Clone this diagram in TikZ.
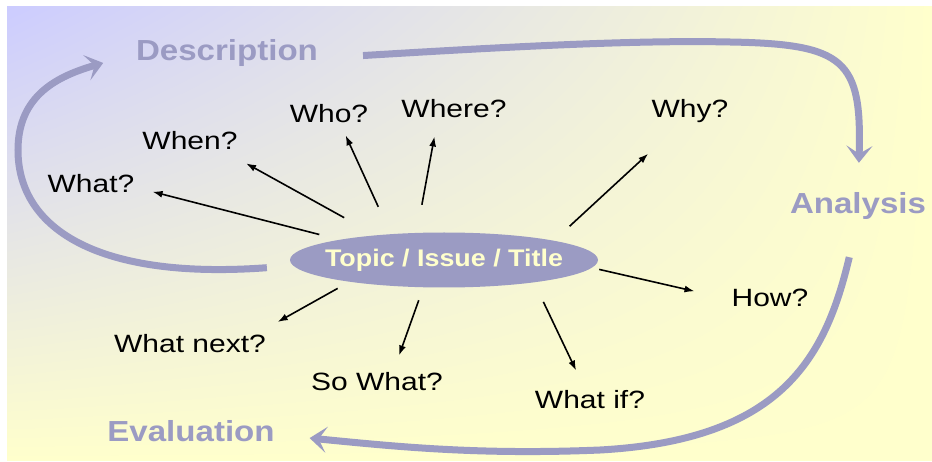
\documentclass[tikz,border=0pt]{standalone}
\usepackage{fontspec}
\usepackage{tikz}
\usetikzlibrary{shapes}
\usetikzlibrary{shadings}
\usetikzlibrary{arrows.meta}
\newfontfamily\qfont{Liberation Sans}[FakeStretch=1.2]
\newfontfamily\hfont{Liberation Sans}[FakeStretch=1.14]
\newfontfamily\tfont{Liberation Sans}[FakeStretch=1.12]
\definecolor{lav}{RGB}{155,155,195}
\definecolor{lavbg}{RGB}{204,204,255}
\definecolor{pale}{RGB}{255,255,204}

\begin{document}
\begin{tikzpicture}[x=1pt,y=1pt]
      \tikzstyle{every node}=[inner sep=0pt]
      \tikzstyle{qnode}=[anchor=base,font=\qfont\fontsize{25}{30}\selectfont,text=black]
      \tikzstyle{stagenode}=[anchor=base,font=\hfont\bfseries\fontsize{29}{34}\selectfont,text=lav]
      \tikzstyle{qarrow}=[-{Latex[length=10pt,width=7pt]},line width=1.6pt]
      \tikzstyle{flowarrow}=[-{Stealth[length=17pt,width=26pt,inset=8pt]},line width=7pt,draw=lav]
      % 
      \useasboundingbox (0,0) rectangle (932,461);
      \shade[upper left=lavbg,upper right=pale,lower left=pale,lower right=pale] (7,1) rectangle (932,454);
      % 
      \node [ellipse,fill=lav,minimum width=308pt,minimum height=55pt,inner xsep=-16pt,inner ysep=0pt,
             text=pale,font=\tfont\bfseries\fontsize{24}{28}\selectfont] (topic) at (444,201) {Topic / Issue / Title};
      \node [stagenode] (desc)     at (227,400) {Description};
      \node [stagenode] (analysis) at (858,247) {Analysis};
      \node [stagenode] (eval)     at (191,20)  {Evaluation};
      \node [qnode] (what)   at (91,268)  {What?};
      \node [qnode] (when)   at (190,311) {When?};
      \node [qnode] (who)    at (329,338) {Who?};
      \node [qnode] (where)  at (454,343) {Where?};
      \node [qnode] (why)    at (690,343) {Why?};
      \node [qnode] (how)    at (770,154) {How?};
      \node [qnode] (next)   at (190,109) {What next?};
      \node [qnode] (sowhat) at (377,71)  {So What?};
      \node [qnode] (whatif) at (590,53)  {What if?};
      % 
      \path[qarrow]
      (topic.169.5) edge [shorten <=20.7pt,shorten >=18.6pt] (what.-4.3)
      (topic.160.8) edge [shorten <=36.1pt,shorten >=26.7pt] (when.-16)
      (topic.154.9) edge [shorten <=29.9pt,shorten >=13.1pt] (who.-40.1)
      (topic.135.2) edge [shorten <=28.4pt,shorten >=18.3pt] (where.210)
      (topic.10.6)  edge [shorten <=21.2pt,shorten >=44.7pt] (why.233.6)
      (topic.-3.3)  edge [shorten <=7.4pt, shorten >=37.9pt] (how.182.7)
      (topic.193.2) edge [shorten <=13.4pt,shorten >=24pt]   (next.8.8)
      (topic.233.6) edge [shorten <=13.6pt,shorten >=17.2pt] (sowhat.30.7)
      (topic.-14.5) edge [shorten <=21.5pt,shorten >=21.2pt] (whatif.117.1);
      % 
      \draw[flowarrow,shorten <=45pt,shorten >=30pt] (desc.-3)
            .. controls (520,415) and (640,421) .. (730,419)
            .. controls (845,417) and (862,401) .. (analysis.north);
      \draw[flowarrow,shorten <=38pt,shorten >=35pt] (analysis.south)
            .. controls (825,101) and (780,21) .. (600,11)
            .. controls (480,6) and (400,14) .. ([yshift=-4pt]eval.east);
      \draw[flowarrow,shorten <=23pt,shorten >=34pt] ([yshift=-6pt]topic.west)
            .. controls (100,181) and (18,231) .. (18,311)
            .. controls (18,366) and (58,385) .. (desc.west);
    \end{tikzpicture}
\end{document}
